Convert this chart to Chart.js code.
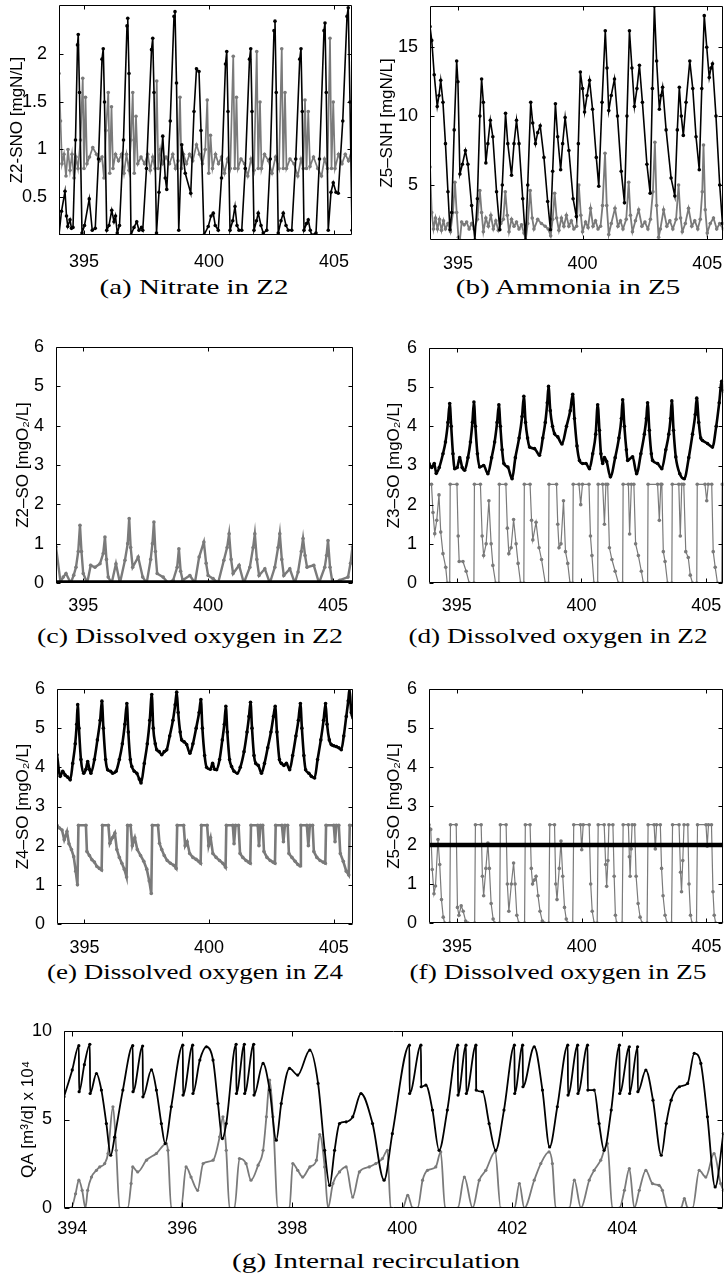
<!DOCTYPE html>
<html>
<head>
<meta charset="utf-8">
<script src="https://cdn.jsdelivr.net/npm/chart.js@4.4.1/dist/chart.umd.min.js"></script>
<style>
  html, body { margin: 0; padding: 0; background: #fff; }
  #page { position: relative; width: 725px; height: 1277px; overflow: hidden; background: #fff; }
  #page canvas { position: absolute; }
  .cap { position: absolute; font-family: 'Liberation Serif', serif; font-size: 21px; color: #000; white-space: nowrap; }
</style>
</head>
<body>
<div id="page">
  <canvas id="cA"></canvas>
  <canvas id="cB"></canvas>
  <canvas id="cC"></canvas>
  <canvas id="cD"></canvas>
  <canvas id="cE"></canvas>
  <canvas id="cF"></canvas>
  <canvas id="cG"></canvas>
</div>
<script>
// ---- data: [day, value] ----
const nitrateBlack = [[394.00,0.10],[394.10,0.35],[394.24,0.56],[394.30,0.30],[394.35,0.19],[394.44,0.26],[394.50,0.17],[394.56,0.18],[394.66,1.10],[394.74,2.10],[394.77,2.21],[394.82,1.60],[394.92,0.12],[395.02,0.20],[395.21,0.48],[395.33,0.15],[395.45,0.17],[395.58,0.90],[395.72,1.95],[395.77,2.06],[395.82,1.50],[395.91,0.15],[396.00,0.20],[396.11,0.36],[396.20,0.24],[396.26,0.30],[396.33,0.12],[396.42,0.20],[396.58,1.10],[396.72,2.30],[396.75,2.38],[396.80,1.80],[396.88,0.10],[397.00,0.18],[397.11,0.24],[397.20,0.15],[397.30,0.18],[397.35,0.15],[397.50,0.80],[397.70,2.05],[397.75,2.17],[397.80,1.60],[397.90,0.12],[398.00,0.55],[398.15,1.14],[398.25,0.70],[398.31,0.58],[398.45,1.30],[398.60,2.40],[398.64,2.45],[398.70,1.70],[398.79,0.15],[398.91,1.05],[399.05,0.75],[399.27,0.54],[399.40,1.40],[399.50,1.85],[399.60,1.82],[399.68,1.20],[399.80,0.10],[399.97,0.19],[400.08,0.30],[400.17,0.33],[400.25,0.20],[400.37,0.15],[400.50,0.70],[400.66,1.90],[400.71,2.03],[400.76,1.40],[400.84,0.15],[400.95,0.25],[401.04,0.40],[401.12,0.20],[401.20,0.15],[401.31,0.15],[401.45,0.80],[401.62,1.95],[401.67,2.06],[401.72,1.40],[401.80,0.15],[401.90,0.25],[401.97,0.33],[402.08,0.20],[402.17,0.12],[402.31,0.15],[402.45,0.90],[402.60,2.25],[402.64,2.35],[402.69,1.60],[402.77,0.12],[402.88,0.25],[402.97,0.33],[403.08,0.20],[403.17,0.15],[403.31,0.15],[403.47,0.90],[403.63,1.95],[403.68,2.06],[403.73,1.40],[403.80,0.15],[403.90,0.22],[403.97,0.26],[404.05,0.15],[404.11,0.10],[404.28,0.12],[404.42,0.90],[404.60,2.25],[404.64,2.33],[404.69,1.60],[404.77,0.15],[404.88,0.55],[404.97,0.65],[405.08,0.55],[405.17,0.54],[405.35,1.30],[405.52,2.40],[405.57,2.49],[405.64,1.50],[405.72,0.15]];
const nitrateGray = [[394.00,1.80],[394.06,1.30],[394.12,0.85],[394.20,0.95],[394.28,0.72],[394.36,1.00],[394.44,0.78],[394.52,0.95],[394.60,0.70],[394.68,0.92],[394.76,0.80],[394.86,1.10],[394.95,1.75],[395.00,0.80],[395.06,1.55],[395.12,0.85],[395.22,0.92],[395.35,1.02],[395.50,0.95],[395.62,0.88],[395.72,0.92],[395.80,0.70],[395.88,1.20],[395.97,1.60],[396.03,0.75],[396.10,1.45],[396.16,0.80],[396.26,0.95],[396.38,0.88],[396.50,0.95],[396.60,0.75],[396.70,0.95],[396.80,0.78],[396.88,1.10],[396.95,1.60],[397.01,0.75],[397.08,1.35],[397.15,0.85],[397.28,0.92],[397.42,0.85],[397.55,0.95],[397.65,0.78],[397.75,0.92],[397.84,0.80],[397.91,1.72],[397.97,0.80],[398.05,1.00],[398.15,0.85],[398.28,0.92],[398.42,0.85],[398.55,0.95],[398.66,0.80],[398.76,0.88],[398.84,1.55],[398.90,0.80],[398.98,0.95],[399.10,0.85],[399.22,0.95],[399.35,0.88],[399.50,1.05],[399.62,0.95],[399.74,0.85],[399.85,1.00],[399.93,1.52],[399.99,0.75],[400.06,1.15],[400.14,0.80],[400.26,0.95],[400.38,0.85],[400.50,0.92],[400.62,0.75],[400.74,0.90],[400.85,0.80],[400.97,1.98],[401.03,0.80],[401.10,1.55],[401.16,0.80],[401.28,0.90],[401.42,0.85],[401.55,0.72],[401.68,0.90],[401.80,0.78],[401.91,2.03],[401.97,0.80],[402.04,1.50],[402.10,0.80],[402.22,0.95],[402.38,0.88],[402.52,0.75],[402.66,0.92],[402.80,0.80],[402.91,2.06],[402.97,0.80],[403.04,1.60],[403.10,0.80],[403.24,0.90],[403.40,0.85],[403.55,0.72],[403.68,0.90],[403.77,0.80],[403.84,1.52],[403.90,0.80],[403.97,1.40],[404.04,0.82],[404.18,0.92],[404.35,0.80],[404.50,0.72],[404.62,0.90],[404.74,0.80],[404.84,2.17],[404.90,0.80],[404.97,1.50],[405.04,0.80],[405.18,0.95],[405.32,0.85],[405.45,0.95],[405.58,0.88],[405.72,1.00]];

const ammoniaBlack = [[393.88,16.5],[393.95,15.5],[394.05,13.0],[394.17,10.7],[394.24,11.5],[394.31,12.6],[394.40,11.0],[394.50,8.0],[394.60,4.5],[394.68,1.75],[394.75,3.0],[394.85,9.0],[394.95,14.0],[395.00,12.5],[395.08,5.8],[395.18,6.5],[395.30,7.5],[395.40,6.5],[395.55,3.5],[395.68,1.0],[395.78,4.0],[395.88,10.0],[395.95,12.7],[396.02,11.0],[396.12,6.6],[396.20,8.0],[396.30,9.7],[396.40,8.5],[396.55,4.5],[396.68,1.75],[396.78,5.0],[396.91,10.2],[397.00,8.0],[397.15,5.7],[397.25,8.0],[397.35,9.7],[397.45,8.0],[397.60,4.0],[397.71,1.0],[397.80,5.0],[397.92,11.0],[398.00,9.5],[398.11,8.0],[398.20,8.8],[398.30,9.3],[398.45,7.0],[398.60,3.8],[398.71,1.75],[398.80,6.0],[398.91,10.9],[399.00,8.5],[399.12,6.1],[399.20,8.0],[399.30,9.9],[399.45,7.5],[399.62,4.0],[399.75,2.7],[399.83,8.0],[399.91,13.2],[400.00,12.0],[400.08,10.3],[400.18,11.5],[400.28,12.6],[400.40,10.5],[400.55,7.0],[400.65,4.9],[400.78,11.0],[400.91,16.2],[400.98,13.5],[401.05,10.4],[401.15,11.5],[401.28,12.7],[401.40,10.0],[401.55,6.0],[401.68,3.7],[401.78,10.0],[401.88,16.2],[401.98,13.5],[402.08,10.7],[402.18,12.0],[402.28,13.7],[402.40,11.0],[402.58,6.5],[402.71,4.4],[402.80,12.0],[402.88,18.0],[402.97,14.0],[403.08,10.5],[403.15,11.5],[403.21,12.1],[403.35,9.0],[403.55,5.5],[403.70,4.2],[403.80,9.0],[403.88,12.1],[403.96,10.0],[404.04,8.6],[404.15,11.0],[404.30,14.0],[404.42,12.0],[404.55,8.5],[404.68,6.1],[404.78,12.0],[404.88,17.3],[404.98,15.0],[405.08,12.8],[405.15,13.5],[405.21,13.8],[405.35,10.0],[405.50,5.0],[405.61,2.2]];
const ammoniaGray = [[393.88,6.3],[393.95,3.0],[394.02,1.8],[394.10,2.6],[394.18,1.8],[394.26,2.5],[394.34,1.7],[394.42,2.4],[394.50,1.8],[394.60,2.2],[394.70,1.6],[394.80,3.0],[394.88,5.2],[394.95,3.0],[395.02,1.2],[395.08,1.0],[395.15,2.3],[395.25,2.1],[395.35,2.3],[395.45,1.8],[395.55,2.2],[395.65,1.8],[395.78,2.5],[395.88,4.6],[395.95,3.0],[396.02,1.6],[396.12,2.6],[396.22,2.0],[396.32,2.8],[396.42,1.8],[396.52,2.4],[396.62,1.7],[396.72,2.2],[396.82,2.5],[396.90,4.5],[396.98,2.8],[397.05,1.6],[397.15,2.5],[397.25,2.0],[397.35,2.3],[397.45,1.8],[397.55,2.1],[397.65,1.5],[397.72,1.0],[397.80,2.2],[397.90,4.6],[397.98,2.6],[398.05,1.8],[398.20,2.5],[398.35,2.2],[398.50,2.0],[398.62,1.8],[398.72,1.3],[398.80,2.5],[398.88,4.4],[398.96,2.6],[399.05,1.7],[399.15,2.6],[399.25,2.0],[399.35,2.8],[399.45,2.0],[399.55,2.4],[399.65,1.8],[399.76,2.0],[399.85,5.0],[399.93,2.8],[400.00,1.6],[400.12,2.3],[400.22,1.9],[400.32,3.3],[400.42,2.0],[400.52,2.4],[400.62,1.8],[400.72,2.0],[400.80,3.5],[400.90,7.3],[400.97,3.5],[401.05,1.4],[401.15,2.2],[401.30,3.3],[401.42,2.0],[401.52,2.4],[401.62,1.8],[401.75,2.5],[401.85,5.2],[401.92,2.8],[402.00,1.6],[402.12,2.4],[402.25,3.2],[402.38,2.0],[402.50,2.3],[402.62,1.8],[402.72,2.5],[402.82,4.5],[402.90,8.1],[402.97,3.5],[403.05,1.2],[403.12,1.8],[403.25,3.2],[403.38,2.0],[403.50,2.4],[403.62,1.8],[403.75,2.5],[403.85,5.0],[403.93,2.6],[404.00,1.6],[404.12,2.2],[404.25,3.3],[404.38,2.0],[404.50,2.4],[404.62,1.8],[404.72,2.5],[404.80,4.5],[404.85,7.9],[404.92,3.2],[405.00,1.5],[405.12,2.2],[405.25,2.6],[405.38,1.8],[405.50,2.2],[405.64,1.8]];

const oxyZ2Black = [[393.91,0.02],[405.80,0.02]];
const oxyZ2Gray = [[393.91,0.92],[394.09,0.03],[394.20,0.15],[394.31,0.24],[394.50,0.00],[394.62,0.20],[394.71,0.40],[394.80,0.80],[394.87,1.47],[394.93,0.80],[395.00,0.24],[395.16,0.00],[395.30,0.45],[395.47,0.40],[395.67,0.49],[395.80,0.75],[395.87,1.17],[395.93,0.60],[396.00,0.15],[396.14,0.00],[396.31,0.49],[396.47,0.00],[396.67,0.58],[396.78,1.00],[396.84,1.64],[396.90,0.90],[396.98,0.40],[397.20,0.66],[397.38,0.15],[397.54,0.00],[397.70,0.60],[397.77,1.00],[397.83,1.55],[397.89,0.80],[397.96,0.24],[398.20,0.15],[398.40,0.00],[398.60,0.07],[398.76,0.40],[398.83,0.87],[398.90,0.30],[398.98,0.07],[399.27,0.19],[399.47,0.00],[399.64,0.66],[399.83,1.04],[399.92,0.50],[400.00,0.19],[400.20,0.11],[400.40,0.00],[400.63,0.58],[400.76,0.90],[400.84,1.25],[400.92,0.60],[401.00,0.24],[401.24,0.45],[401.43,0.00],[401.67,0.40],[401.80,0.90],[401.87,1.25],[401.95,0.60],[402.04,0.19],[402.27,0.36],[402.47,0.00],[402.67,0.40],[402.80,0.90],[402.87,1.25],[402.95,0.60],[403.03,0.19],[403.27,0.36],[403.47,0.00],[403.60,0.28],[403.73,0.80],[403.80,1.13],[403.88,0.70],[403.96,0.40],[404.23,0.45],[404.44,0.00],[404.67,0.40],[404.74,0.70],[404.80,1.08],[404.88,0.40],[404.98,0.00],[405.27,0.07],[405.60,0.15],[405.70,0.50],[405.78,0.92]];

const oxyZ3Black = [[393.89,3.05],[394.00,2.95],[394.10,3.05],[394.18,2.80],[394.30,2.95],[394.45,3.30],[394.55,3.60],[394.65,4.10],[394.72,4.58],[394.78,4.00],[394.85,3.30],[394.92,2.92],[395.02,2.95],[395.12,3.20],[395.22,2.95],[395.32,2.88],[395.45,3.20],[395.55,3.60],[395.63,4.10],[395.69,4.62],[395.75,4.00],[395.83,3.30],[395.92,2.96],[396.08,3.00],[396.25,2.79],[396.40,3.20],[396.52,3.60],[396.62,4.10],[396.69,4.55],[396.75,4.00],[396.82,3.40],[396.89,3.05],[397.05,2.96],[397.22,2.66],[397.35,3.20],[397.50,3.70],[397.62,4.25],[397.69,4.77],[397.76,4.10],[397.84,3.70],[397.92,3.47],[398.12,3.43],[398.32,3.26],[398.45,3.70],[398.55,4.10],[398.63,4.60],[398.68,5.02],[398.75,4.40],[398.84,4.00],[398.92,3.81],[399.05,3.73],[399.22,3.55],[399.40,4.00],[399.55,4.40],[399.65,4.82],[399.72,4.20],[399.82,3.50],[399.92,3.13],[400.05,3.05],[400.18,3.05],[400.32,2.92],[400.45,3.30],[400.57,3.80],[400.65,4.55],[400.72,3.90],[400.78,3.30],[400.85,3.05],[400.92,3.20],[401.01,3.10],[401.16,2.71],[401.35,3.20],[401.50,3.70],[401.60,4.20],[401.65,4.68],[401.72,4.00],[401.80,3.40],[401.85,3.13],[402.05,3.22],[402.21,2.79],[402.38,3.30],[402.52,3.80],[402.60,4.20],[402.65,4.60],[402.72,3.90],[402.80,3.30],[402.85,3.13],[403.05,3.05],[403.22,2.92],[403.38,3.40],[403.50,3.80],[403.57,4.20],[403.62,4.65],[403.69,3.90],[403.78,3.22],[403.94,2.79],[404.12,2.66],[404.30,3.20],[404.45,3.80],[404.56,4.30],[404.62,4.72],[404.70,4.10],[404.78,3.70],[404.85,3.64],[405.05,3.56],[405.25,3.47],[405.40,4.00],[405.52,4.60],[405.62,5.15],[405.68,4.90]];
const oxyZ3Gray = [[393.89,2.52],[393.99,2.52],[394.05,1.80],[394.12,1.26],[394.20,1.60],[394.29,2.25],[394.36,1.30],[394.45,0.75],[394.56,0.40],[394.62,0.00],[394.72,0.00],[394.74,2.52],[395.01,2.52],[395.06,1.20],[395.10,0.55],[395.25,0.55],[395.38,0.30],[395.50,0.00],[395.69,0.00],[395.71,2.52],[395.95,2.52],[396.02,1.20],[396.08,0.70],[396.18,1.00],[396.29,2.10],[396.38,1.00],[396.45,0.45],[396.56,0.00],[396.69,0.00],[396.71,2.52],[396.97,2.52],[397.03,1.40],[397.09,0.75],[397.18,0.90],[397.28,1.62],[397.38,1.00],[397.46,0.50],[397.56,0.00],[397.69,0.00],[397.71,2.52],[397.94,2.52],[398.00,1.60],[398.05,1.10],[398.18,1.55],[398.30,0.90],[398.40,0.60],[398.55,0.00],[398.68,0.00],[398.70,2.52],[399.00,2.52],[399.05,1.50],[399.10,0.90],[399.18,1.00],[399.28,2.10],[399.36,0.80],[399.45,0.50],[399.54,0.00],[399.65,0.00],[399.67,2.52],[399.90,2.52],[399.97,2.00],[400.04,2.52],[400.30,2.52],[400.36,1.20],[400.42,0.70],[400.50,0.00],[400.65,0.00],[400.67,2.52],[400.85,2.52],[400.92,1.50],[400.98,2.52],[401.05,2.52],[401.12,0.90],[401.22,0.60],[401.35,0.30],[401.48,0.00],[401.65,0.00],[401.67,2.52],[401.88,2.52],[401.93,1.25],[402.00,2.52],[402.10,2.52],[402.17,1.00],[402.28,0.70],[402.40,0.30],[402.48,0.00],[402.65,0.00],[402.67,2.52],[403.05,2.52],[403.12,1.60],[403.18,2.52],[403.22,2.52],[403.28,0.80],[403.35,0.55],[403.45,0.00],[403.62,0.00],[403.64,2.52],[403.90,2.52],[403.96,1.20],[404.02,2.52],[404.10,2.52],[404.18,0.80],[404.28,0.65],[404.36,0.20],[404.45,0.00],[404.62,0.00],[404.64,2.52],[404.95,2.52],[405.02,2.10],[405.08,2.52],[405.22,2.52],[405.28,0.80],[405.36,0.40],[405.45,0.00],[405.62,0.00],[405.64,2.52],[405.68,2.52]];

const oxyZ4Black = [[393.90,4.32],[394.03,3.77],[394.13,3.90],[394.23,3.80],[394.33,3.75],[394.43,3.68],[394.53,4.10],[394.63,4.60],[394.69,5.10],[394.73,5.60],[394.78,5.00],[394.86,4.20],[394.97,3.85],[395.06,3.95],[395.13,4.15],[395.20,3.95],[395.26,3.85],[395.40,4.20],[395.52,4.70],[395.63,5.20],[395.70,5.69],[395.76,5.00],[395.85,4.20],[395.93,3.94],[396.05,3.90],[396.13,3.85],[396.27,3.90],[396.40,4.20],[396.52,4.60],[396.62,5.10],[396.70,5.63],[396.76,4.90],[396.84,4.20],[396.90,4.02],[397.00,3.90],[397.10,3.85],[397.20,3.70],[397.27,3.60],[397.40,4.10],[397.52,4.60],[397.62,5.20],[397.70,5.86],[397.76,5.00],[397.84,4.60],[397.90,4.45],[398.00,4.40],[398.10,4.32],[398.20,4.40],[398.30,4.45],[398.42,4.80],[398.55,5.20],[398.64,5.60],[398.70,5.92],[398.76,5.40],[398.84,4.90],[398.90,4.70],[399.00,4.65],[399.10,4.58],[399.23,4.36],[399.35,4.60],[399.48,5.00],[399.60,5.40],[399.67,5.73],[399.73,5.00],[399.82,4.30],[399.90,4.00],[400.05,3.95],[400.14,4.10],[400.22,3.95],[400.30,3.94],[400.42,4.20],[400.53,4.70],[400.61,5.10],[400.67,5.56],[400.73,4.90],[400.82,4.20],[400.90,4.02],[401.00,3.90],[401.13,3.85],[401.25,4.00],[401.40,4.40],[401.52,4.90],[401.60,5.30],[401.66,5.66],[401.72,5.00],[401.80,4.30],[401.87,4.10],[401.97,4.05],[402.10,3.85],[402.22,4.10],[402.35,4.50],[402.48,4.90],[402.58,5.30],[402.65,5.56],[402.72,4.90],[402.82,4.20],[402.90,4.10],[403.00,4.05],[403.10,4.10],[403.23,3.94],[403.35,4.30],[403.48,4.80],[403.58,5.20],[403.66,5.63],[403.72,5.00],[403.80,4.30],[403.87,3.94],[404.00,3.85],[404.10,3.77],[404.23,3.73],[404.35,4.20],[404.48,4.70],[404.59,5.20],[404.67,5.63],[404.73,5.10],[404.82,4.70],[404.90,4.58],[405.00,4.55],[405.10,4.53],[405.20,4.50],[405.30,4.45],[405.40,4.80],[405.50,5.30],[405.58,5.70],[405.63,6.00],[405.70,5.40],[405.77,5.26]];
const oxyZ4Gray = [[393.90,2.52],[394.00,2.45],[394.10,2.40],[394.19,2.15],[394.30,2.36],[394.38,2.05],[394.48,1.90],[394.57,1.72],[394.65,1.35],[394.72,1.00],[394.76,2.52],[395.06,2.52],[395.10,1.85],[395.20,1.75],[395.30,1.64],[395.40,1.58],[395.50,1.47],[395.60,1.42],[395.69,1.38],[395.72,2.52],[395.96,2.52],[396.02,2.06],[396.12,2.20],[396.22,2.32],[396.30,1.90],[396.40,1.70],[396.50,1.55],[396.60,1.40],[396.69,1.20],[396.73,2.52],[396.85,2.52],[396.92,2.00],[397.02,2.20],[397.12,1.90],[397.25,1.75],[397.38,1.60],[397.50,1.40],[397.60,1.10],[397.68,0.78],[397.72,2.52],[397.95,2.52],[398.01,2.06],[398.10,1.90],[398.20,1.75],[398.32,1.62],[398.45,1.55],[398.58,1.50],[398.68,1.42],[398.72,2.52],[398.98,2.52],[399.04,2.00],[399.12,2.10],[399.22,1.80],[399.35,1.70],[399.48,1.65],[399.58,1.60],[399.66,1.55],[399.69,2.52],[399.92,2.52],[399.98,2.00],[400.06,2.20],[400.15,1.80],[400.28,1.70],[400.42,1.62],[400.55,1.55],[400.66,1.45],[400.69,2.52],[400.95,2.52],[401.00,2.05],[401.06,2.52],[401.18,2.52],[401.24,1.80],[401.35,1.70],[401.48,1.62],[401.58,1.58],[401.65,1.55],[401.68,2.52],[401.95,2.52],[402.00,2.00],[402.06,2.52],[402.15,2.52],[402.20,1.85],[402.32,1.70],[402.45,1.62],[402.56,1.58],[402.64,1.55],[402.67,2.52],[402.92,2.52],[402.98,2.10],[403.04,2.52],[403.15,2.52],[403.20,1.80],[403.32,1.70],[403.45,1.60],[403.56,1.52],[403.65,1.48],[403.68,2.52],[403.92,2.52],[403.98,2.00],[404.04,2.52],[404.15,2.52],[404.20,1.85],[404.32,1.70],[404.45,1.62],[404.57,1.58],[404.66,1.55],[404.69,2.52],[405.00,2.52],[405.05,2.10],[405.10,2.52],[405.20,2.52],[405.26,1.80],[405.38,1.60],[405.50,1.35],[405.60,1.25],[405.64,2.52],[405.77,2.52]];

const oxyZ5Black = [[393.88,2.0],[405.67,2.0]];
const oxyZ5Gray = [[393.88,2.52],[393.95,2.40],[394.01,1.37],[394.08,0.75],[394.14,0.95],[394.24,2.14],[394.31,1.50],[394.38,0.60],[394.45,0.15],[394.51,0.00],[394.71,0.00],[394.74,2.52],[394.97,2.52],[395.02,0.40],[395.08,0.20],[395.17,0.44],[395.25,0.30],[395.35,0.05],[395.45,0.00],[395.71,0.00],[395.74,2.52],[395.97,2.52],[396.02,1.20],[396.07,0.70],[396.16,1.40],[396.24,2.05],[396.30,1.40],[396.37,0.50],[396.45,0.10],[396.51,0.00],[396.71,0.00],[396.74,2.52],[396.97,2.52],[397.02,1.00],[397.08,0.30],[397.18,1.00],[397.27,1.54],[397.33,1.00],[397.40,0.20],[397.48,0.00],[397.71,0.00],[397.74,2.52],[397.93,2.52],[397.98,1.40],[398.03,1.00],[398.10,1.10],[398.17,1.20],[398.25,0.70],[398.33,0.30],[398.42,0.05],[398.50,0.00],[398.68,0.00],[398.72,2.52],[398.91,2.52],[398.96,1.00],[399.01,0.60],[399.10,1.40],[399.17,2.10],[399.24,1.20],[399.31,0.40],[399.38,0.10],[399.44,0.00],[399.64,0.00],[399.68,2.52],[399.95,2.52],[400.00,1.88],[400.06,2.52],[400.30,2.52],[400.36,1.00],[400.42,0.30],[400.50,0.00],[400.62,0.00],[400.66,2.52],[400.90,2.52],[400.96,1.50],[401.00,0.94],[401.05,1.60],[401.09,2.52],[401.25,2.52],[401.30,1.20],[401.35,0.20],[401.40,0.00],[401.62,0.00],[401.66,2.52],[401.87,2.52],[401.91,1.70],[401.94,1.20],[401.98,1.90],[402.02,2.52],[402.12,2.52],[402.18,1.20],[402.26,0.50],[402.34,0.15],[402.42,0.00],[402.62,0.00],[402.66,2.52],[402.90,2.52],[402.95,1.90],[403.00,2.52],[403.15,2.52],[403.20,1.40],[403.26,0.70],[403.34,0.20],[403.42,0.00],[403.60,0.00],[403.64,2.52],[403.90,2.52],[403.96,1.30],[404.00,0.80],[404.05,1.60],[404.10,2.52],[404.25,2.52],[404.30,1.00],[404.36,0.20],[404.42,0.00],[404.60,0.00],[404.64,2.52],[404.98,2.52],[405.03,1.97],[405.08,2.52],[405.20,2.52],[405.26,0.80],[405.31,0.20],[405.37,0.00],[405.67,0.00]];

const recircBlack = [[393.85,6.28],[394.00,7.80],[394.12,9.17],[394.125,6.57],[394.22,8.10],[394.32,9.25],[394.325,6.47],[394.44,7.60],[394.53,6.66],[394.62,4.77],[394.70,2.98],[394.77,4.00],[394.92,6.66],[395.10,9.17],[395.105,6.57],[395.28,9.15],[395.285,6.28],[395.44,7.80],[395.53,6.66],[395.62,4.77],[395.69,3.64],[395.80,5.72],[396.01,9.20],[396.015,6.38],[396.19,9.20],[396.195,6.47],[396.32,8.36],[396.44,9.11],[396.56,8.36],[396.65,5.90],[396.73,3.92],[396.80,4.77],[396.98,9.25],[396.985,6.47],[397.13,9.25],[397.135,6.47],[397.30,9.25],[397.305,6.38],[397.47,8.17],[397.59,6.66],[397.71,3.83],[397.80,5.90],[397.95,7.89],[398.10,7.51],[398.32,8.92],[398.47,7.04],[398.59,3.26],[398.68,1.28],[398.77,3.26],[398.86,4.77],[398.98,4.87],[399.10,5.15],[399.25,6.47],[399.46,4.77],[399.67,1.57],[399.82,4.20],[400.13,9.20],[400.135,6.47],[400.34,9.20],[400.345,6.85],[400.43,6.94],[400.55,5.53],[400.67,3.26],[400.82,5.53],[401.01,9.20],[401.015,6.38],[401.16,9.20],[401.165,6.47],[401.34,9.20],[401.345,6.66],[401.46,6.57],[401.58,4.77],[401.70,3.26],[401.85,5.53],[402.04,9.20],[402.045,6.47],[402.19,9.20],[402.195,6.85],[402.40,9.11],[402.55,6.66],[402.68,3.45],[402.82,5.72],[403.01,9.20],[403.015,6.38],[403.19,9.20],[403.195,6.47],[403.37,9.20],[403.375,6.66],[403.49,6.66],[403.58,4.77],[403.67,3.26],[403.80,5.53],[403.95,9.20],[403.955,6.47],[404.13,9.11],[404.135,6.47],[404.28,9.11],[404.285,6.57],[404.43,7.79],[404.56,6.09],[404.71,2.98],[404.80,4.77],[404.89,6.09],[405.04,6.85],[405.19,7.04],[405.31,8.74],[405.43,8.17],[405.55,5.15],[405.69,1.19],[405.84,4.21]];
const recircGray = [[393.85,0.00],[393.98,0.00],[394.06,0.80],[394.12,1.57],[394.18,1.00],[394.24,0.00],[394.28,1.00],[394.35,1.75],[394.44,2.13],[394.50,2.32],[394.59,2.51],[394.65,3.08],[394.74,5.72],[394.80,3.26],[394.86,0.00],[395.01,0.00],[395.07,1.38],[395.10,2.32],[395.19,2.04],[395.35,2.70],[395.53,3.08],[395.71,3.64],[395.74,3.26],[395.80,0.00],[395.98,0.00],[396.07,2.32],[396.16,1.75],[396.28,1.00],[396.38,2.51],[396.56,2.70],[396.68,4.02],[396.74,5.15],[396.80,3.26],[396.86,0.00],[396.95,0.00],[397.04,2.79],[397.16,2.51],[397.25,1.57],[397.38,2.42],[397.47,3.26],[397.53,5.15],[397.59,7.23],[397.65,5.15],[397.74,0.00],[397.95,0.00],[398.01,2.51],[398.10,2.13],[398.19,1.75],[398.32,2.32],[398.44,2.70],[398.50,4.15],[398.59,2.32],[398.65,0.00],[398.74,1.38],[398.86,2.04],[398.98,2.32],[399.10,0.62],[399.22,2.04],[399.40,2.32],[399.52,2.51],[399.64,2.79],[399.73,3.26],[399.79,0.00],[400.01,0.00],[400.10,0.72],[400.19,0.00],[400.28,0.00],[400.37,1.57],[400.46,2.13],[400.61,2.32],[400.70,3.17],[400.78,0.00],[401.01,0.00],[401.13,1.75],[401.28,0.00],[401.40,1.57],[401.52,2.13],[401.69,3.17],[401.79,0.00],[402.04,0.00],[402.13,1.38],[402.22,0.00],[402.40,1.57],[402.52,2.51],[402.67,3.17],[402.73,2.51],[402.79,0.00],[403.04,0.00],[403.13,1.57],[403.25,0.00],[403.40,1.57],[403.49,2.13],[403.61,2.70],[403.73,3.64],[403.82,0.00],[403.95,0.00],[404.04,1.00],[404.13,2.23],[404.22,0.00],[404.31,1.00],[404.43,2.13],[404.55,1.38],[404.67,1.28],[404.73,1.00],[404.82,0.00],[405.07,0.00],[405.13,0.53],[405.19,0.00],[405.28,0.00],[405.40,2.13],[405.52,1.75],[405.67,3.08],[405.79,1.38],[405.84,1.00]];

const dayTicks = [395, 400, 405];
const dayTicksLong = [394, 396, 398, 400, 402, 404];
const nitrateTicks = [0.5, 1, 1.5, 2];
const ammoniaTicks = [5, 10, 15];
const oxygenTicks = [0, 1, 2, 3, 4, 5, 6];
const flowTicks = [0, 5, 10];

const BLACK = '#000000';
const GRAY = '#7a7a7a';

Chart.defaults.font.family = "'Liberation Sans', Arial, sans-serif";
Chart.defaults.color = '#000';

// box around the axes, with MATLAB style inward ticks on all four sides
const framePlugin = {
  id: 'frame',
  afterDraw(chart) {
    const { ctx, chartArea: a, scales } = chart;
    const len = chart.options.plugins.frame.tick;
    const L = Math.round(a.left) + 0.5, R = Math.round(a.right) - 0.5;
    const T = Math.round(a.top) + 0.5, B = Math.round(a.bottom) - 0.5;
    ctx.save();
    ctx.strokeStyle = '#000';
    ctx.lineWidth = 1;
    ctx.beginPath();
    ctx.rect(L, T, R - L, B - T);
    scales.x.ticks.forEach(t => {
      const px = Math.round(scales.x.getPixelForValue(t.value)) + 0.5;
      ctx.moveTo(px, B); ctx.lineTo(px, B - len);
      ctx.moveTo(px, T); ctx.lineTo(px, T + len);
    });
    scales.y.ticks.forEach(t => {
      const py = Math.round(scales.y.getPixelForValue(t.value)) + 0.5;
      ctx.moveTo(L, py); ctx.lineTo(L + len, py);
      ctx.moveTo(R, py); ctx.lineTo(R - len, py);
    });
    ctx.stroke();
    ctx.restore();
  }
};

function line(pairs, color, width, dot, smooth) {
  return {
    data: pairs.map(p => ({ x: p[0], y: p[1] })),
    borderColor: color,
    backgroundColor: color,
    pointBackgroundColor: color,
    borderWidth: width,
    pointRadius: dot,
    pointBorderWidth: 0,
    pointHoverRadius: 0,
    tension: 0,
    cubicInterpolationMode: smooth ? 'monotone' : 'default',
    fill: false
  };
}

function panel(id, cell, plot, xr, xt, yr, yt, yTitle, opt, sets) {
  const cv = document.getElementById(id);
  const w = cell.x1 - cell.x0, h = cell.y1 - cell.y0;
  cv.width = w; cv.height = h;
  cv.style.left = cell.x0 + 'px'; cv.style.top = cell.y0 + 'px';
  cv.style.width = w + 'px'; cv.style.height = h + 'px';
  return new Chart(cv, {
    type: 'line',
    data: { datasets: sets },
    options: {
      responsive: false,
      devicePixelRatio: 1,
      animation: false,
      events: [],
      layout: { padding: { left: 0, bottom: 0, top: plot.t - cell.y0, right: cell.x1 - plot.r } },
      plugins: { legend: { display: false }, tooltip: { enabled: false }, frame: { tick: opt.tick || 4 } },
      scales: {
        x: {
          type: 'linear', position: 'bottom', min: xr[0], max: xr[1], bounds: 'data',
          grid: { display: false }, border: { display: false },
          ticks: { padding: opt.xpad, autoSkip: false, maxRotation: 0, font: { size: 18 }, callback: v => String(v) },
          afterBuildTicks: s => { s.ticks = xt.map(v => ({ value: v })); },
          afterFit: s => { s.height = cell.y1 - plot.b; s.paddingLeft = 0; s.paddingRight = 0; }
        },
        y: {
          type: 'linear', position: 'left', min: yr[0], max: yr[1], bounds: 'data',
          grid: { display: false }, border: { display: false },
          ticks: { padding: 4, autoSkip: false, font: { size: 18 }, callback: v => String(v) },
          title: { display: true, text: yTitle, font: { size: 17 }, padding: { top: opt.tpad, bottom: 0 } },
          afterBuildTicks: s => { s.ticks = yt.map(v => ({ value: v })); },
          afterFit: s => { s.width = plot.l - cell.x0; s.paddingTop = 0; s.paddingBottom = 0; }
        }
      }
    },
    plugins: [framePlugin]
  });
}

panel('cA', { x0: 0, x1: 362, y0: 0, y1: 270 }, { l: 59, r: 352, t: 5, b: 235 },
  [394.0, 405.72], dayTicks, [0.1, 2.52], nitrateTicks, 'Z2-SNO [mgN/L]', { xpad: 8, tpad: 7 },
  [line(nitrateBlack, BLACK, 1.6, 1.8), line(nitrateGray, GRAY, 1.7, 1.8)]);

panel('cB', { x0: 370, x1: 725, y0: 0, y1: 270 }, { l: 430, r: 724, t: 6, b: 240 },
  [393.88, 405.64], dayTicks, [1, 18], ammoniaTicks, 'Z5\u2013SNH [mgN/L]', { xpad: 5, tpad: 7 },
  [line(ammoniaBlack, BLACK, 1.6, 1.8), line(ammoniaGray, GRAY, 1.8, 1.8)]);

panel('cC', { x0: 0, x1: 362, y0: 330, y1: 615 }, { l: 56, r: 353, t: 347, b: 583 },
  [393.91, 405.80], dayTicks, [0, 6], oxygenTicks, 'Z2\u2013SO [mgO\u2082/L]', { xpad: 4, tpad: 13 },
  [line(oxyZ2Black, BLACK, 4, 0), line(oxyZ2Gray, GRAY, 2.4, 1.8)]);

panel('cD', { x0: 370, x1: 725, y0: 330, y1: 615 }, { l: 429, r: 724, t: 348, b: 583 },
  [393.89, 405.68], dayTicks, [0, 6], oxygenTicks, 'Z3\u2013SO [mgO\u2082/L]', { xpad: 4, tpad: 14 },
  [line(oxyZ3Black, BLACK, 2.6, 1.8, true), line(oxyZ3Gray, GRAY, 1.2, 1.8)]);

panel('cE', { x0: 0, x1: 362, y0: 670, y1: 955 }, { l: 57, r: 353, t: 689, b: 924 },
  [393.90, 405.77], dayTicks, [0, 6], oxygenTicks, 'Z4\u2013SO [mgO\u2082/L]', { xpad: 5, tpad: 13 },
  [line(oxyZ4Black, BLACK, 2.6, 1.8, true), line(oxyZ4Gray, GRAY, 2.6, 1.8)]);

panel('cF', { x0: 370, x1: 725, y0: 670, y1: 955 }, { l: 429, r: 724, t: 689, b: 923 },
  [393.88, 405.67], dayTicks, [0, 6], oxygenTicks, 'Z5\u2013SO [mgO\u2082/L]', { xpad: 5, tpad: 14 },
  [line(oxyZ5Black, BLACK, 4.5, 0), line(oxyZ5Gray, GRAY, 1.2, 1.8)]);

panel('cG', { x0: 0, x1: 725, y0: 1015, y1: 1240 }, { l: 64, r: 724, t: 1031, b: 1208 },
  [393.85, 405.84], dayTicksLong, [0, 10], flowTicks, 'QA [m\u00b3/d] x 10\u2074', { xpad: 2, tpad: 18, tick: 5 },
  [line(recircBlack, BLACK, 1.8, 1.6, true), line(recircGray, GRAY, 1.8, 1.6, true)]);

// sub-figure captions
const captions = [
  { text: '(a) Nitrate in Z2', cx: 194, cy: 287, w: 189 },
  { text: '(b) Ammonia in Z5', cx: 568, cy: 287, w: 226 },
  { text: '(c) Dissolved oxygen in Z2', cx: 190, cy: 636, w: 306 },
  { text: '(d) Dissolved oxygen in Z2', cx: 558, cy: 636, w: 299 },
  { text: '(e) Dissolved oxygen in Z4', cx: 195, cy: 972, w: 296 },
  { text: '(f) Dissolved oxygen in Z5', cx: 558, cy: 972, w: 297 },
  { text: '(g) Internal recirculation', cx: 376, cy: 1261, w: 288 }
];
const meas = document.createElement('canvas').getContext('2d');
meas.font = "21px 'Liberation Serif'";
const page = document.getElementById('page');
captions.forEach(c => {
  const d = document.createElement('div');
  d.className = 'cap';
  d.textContent = c.text;
  const k = c.w / meas.measureText(c.text).width;
  d.style.left = c.cx + 'px';
  d.style.top = c.cy + 'px';
  d.style.transform = 'translate(-50%, -50%) scaleX(' + k.toFixed(3) + ')';
  page.appendChild(d);
});
</script>
</body>
</html>
